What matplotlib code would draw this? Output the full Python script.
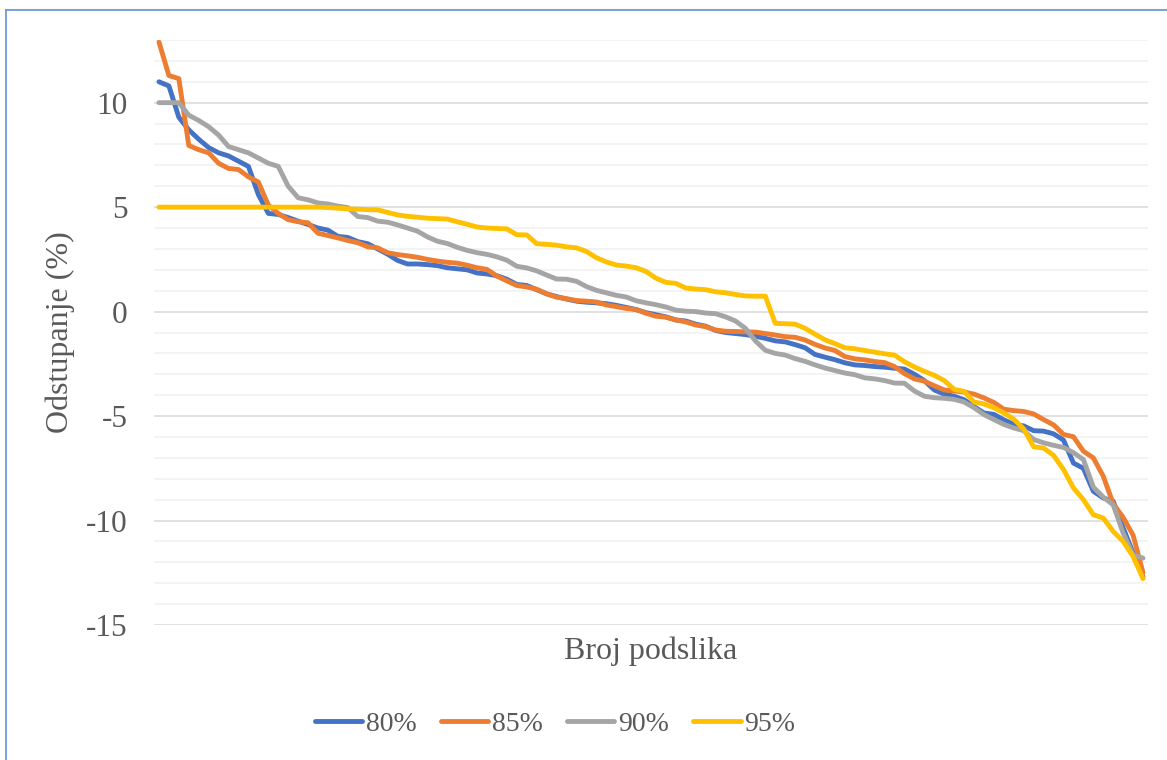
import numpy as np
import matplotlib
matplotlib.use("Agg")
import matplotlib.pyplot as plt
from matplotlib.lines import Line2D

plt.rcParams['font.family'] = ['Liberation Serif', 'DejaVu Serif']
plt.rcParams['axes.unicode_minus'] = False

# podaci procitani sa slike (100 podslika po seriji)
podslike = list(range(1, 101))

s80 = [11.0, 10.8, 9.3, 8.7, 8.25, 7.85, 7.6, 7.45, 7.2, 6.95,
       5.6, 4.7, 4.65, 4.5, 4.33, 4.17, 4.0, 3.9, 3.6, 3.55,
       3.35, 3.25, 3.0, 2.75, 2.45, 2.28, 2.28, 2.25, 2.2, 2.1,
       2.05, 2.0, 1.85, 1.8, 1.72, 1.55, 1.3, 1.25, 1.05, 0.85,
       0.72, 0.6, 0.5, 0.45, 0.42, 0.38, 0.3, 0.2, 0.1, -0.05,
       -0.15, -0.25, -0.4, -0.45, -0.6, -0.7, -0.9, -1.0, -1.05, -1.1,
       -1.18, -1.28, -1.4, -1.45, -1.58, -1.73, -2.05, -2.18, -2.3, -2.45,
       -2.55, -2.58, -2.63, -2.66, -2.71, -2.75, -3.0, -3.3, -3.75, -3.95,
       -4.05, -4.22, -4.55, -4.85, -4.92, -5.18, -5.4, -5.47, -5.7, -5.72,
       -5.85, -6.15, -7.25, -7.5, -8.6, -8.92, -9.08, -10.35, -11.55, -12.7]

s85 = [12.9, 11.3, 11.15, 7.95, 7.75, 7.6, 7.1, 6.85, 6.8, 6.45,
       6.2, 5.1, 4.7, 4.4, 4.3, 4.25, 3.75, 3.64, 3.53, 3.4,
       3.3, 3.1, 3.05, 2.82, 2.73, 2.67, 2.6, 2.5, 2.42, 2.36,
       2.32, 2.22, 2.1, 2.02, 1.7, 1.47, 1.25, 1.18, 1.07, 0.85,
       0.69, 0.62, 0.53, 0.5, 0.46, 0.32, 0.24, 0.15, 0.1, -0.08,
       -0.22, -0.27, -0.4, -0.49, -0.64, -0.72, -0.88, -0.94, -0.95, -0.97,
       -0.98, -1.05, -1.12, -1.2, -1.23, -1.36, -1.57, -1.74, -1.86, -2.15,
       -2.26, -2.31, -2.39, -2.44, -2.63, -2.97, -3.22, -3.33, -3.55, -3.75,
       -3.8, -3.85, -3.95, -4.13, -4.35, -4.67, -4.74, -4.78, -4.9, -5.17,
       -5.42, -5.88, -5.99, -6.68, -7.0, -7.88, -9.2, -9.85, -10.7, -12.5]

s90 = [10.0, 10.0, 10.0, 9.4, 9.15, 8.85, 8.45, 7.9, 7.75, 7.6,
       7.35, 7.1, 6.95, 6.0, 5.45, 5.35, 5.2, 5.15, 5.05, 4.98,
       4.55, 4.5, 4.33, 4.28, 4.15, 4.0, 3.85, 3.58, 3.37, 3.26,
       3.08, 2.93, 2.82, 2.74, 2.62, 2.46, 2.17, 2.09, 1.95, 1.75,
       1.56, 1.55, 1.45, 1.2, 1.02, 0.9, 0.78, 0.7, 0.52, 0.42,
       0.33, 0.22, 0.07, 0.02, 0.0, -0.07, -0.1, -0.25, -0.45, -0.8,
       -1.4, -1.85, -2.0, -2.08, -2.25, -2.38, -2.55, -2.7, -2.82, -2.94,
       -3.02, -3.17, -3.22, -3.3, -3.42, -3.43, -3.8, -4.05, -4.12, -4.15,
       -4.2, -4.33, -4.6, -4.93, -5.17, -5.4, -5.57, -5.7, -6.12, -6.28,
       -6.4, -6.5, -6.75, -7.08, -8.4, -8.88, -9.25, -10.6, -11.65, -11.8]

s95 = [5.0, 5.0, 5.0, 5.0, 5.0, 5.0, 5.0, 5.0, 5.0, 5.0,
       5.0, 5.0, 5.0, 5.0, 5.0, 5.0, 5.0, 4.98, 4.95, 4.92,
       4.9, 4.88, 4.87, 4.75, 4.63, 4.56, 4.52, 4.47, 4.45, 4.43,
       4.3, 4.18, 4.05, 4.0, 3.98, 3.96, 3.68, 3.67, 3.25, 3.22,
       3.18, 3.1, 3.05, 2.88, 2.58, 2.38, 2.23, 2.18, 2.1, 1.92,
       1.6, 1.4, 1.35, 1.13, 1.08, 1.05, 0.95, 0.9, 0.82, 0.75,
       0.74, 0.74, -0.56, -0.58, -0.6, -0.8, -1.08, -1.35, -1.53, -1.73,
       -1.78, -1.86, -1.94, -2.02, -2.08, -2.4, -2.65, -2.86, -3.05, -3.3,
       -3.72, -3.82, -4.33, -4.42, -4.6, -4.85, -5.15, -5.62, -6.47, -6.53,
       -6.88, -7.56, -8.44, -9.0, -9.72, -9.88, -10.52, -11.0, -11.72, -12.78]

serije = ['80%', '85%', '90%', '95%']
boje = ['#4472C4', '#ED7D31', '#A5A5A5', '#FFC000']
yticks = [-15, -10, -5, 0, 5, 10]
ytick_labels = ['-15', '-10', '-5', '0', '5', '10']

W, H = 1167, 760
fig = plt.figure(figsize=(W / 100, H / 100), dpi=100)
ax = fig.add_axes([154 / W, 1 - 625 / H, 994 / W, 585 / H])

x = np.arange(len(podslike))
for vals, naziv, c in zip([s80, s85, s90, s95], serije, boje):
    ax.plot(x, vals, color=c, lw=3.5, label=naziv, solid_joinstyle='round',
            solid_capstyle='round')

ax.set_xlim(-0.5, len(podslike) - 0.5)
ax.set_ylim(-15, 13)
ax.set_yticks(yticks)
ax.set_yticklabels(ytick_labels)
ax.set_yticks(np.arange(-14, 14, 1), minor=True)
ax.set_xticks([])
ax.grid(True, which='major', axis='y', color='#D9D9D9', lw=1.1)
ax.grid(True, which='minor', axis='y', color='#F0F0F0', lw=1.1)
ax.set_axisbelow(True)
ax.tick_params(axis='y', which='both', length=0, pad=19, labelsize=22.5,
               labelcolor='#595959')
for sp in ax.spines.values():
    sp.set_visible(False)

ax.set_ylabel('Odstupanje (%)', fontsize=23, color='#595959', va='center')
ax.yaxis.set_label_coords((60 - 154) / 994, 0.5)
ax.set_xlabel('Broj podslika', fontsize=23, color='#595959', va='center')
ax.xaxis.set_label_coords(0.5, -(651 - 625) / 585)

fig.legend(loc='center', bbox_to_anchor=(555 / W, 1 - 724 / H), ncol=4,
           frameon=False, fontsize=20, handlelength=1.72, handletextpad=0.14,
           columnspacing=0.85, labelcolor='#595959')

# okvir grafikona (vidljiv samo lijevo i gore)
fig.add_artist(Line2D([6 / W, 6 / W], [0, 1 - 10 / H], transform=fig.transFigure,
                      color='#6F97D8', lw=1.3))
fig.add_artist(Line2D([6 / W, 1], [1 - 10 / H, 1 - 10 / H], transform=fig.transFigure,
                      color='#6F97D8', lw=1.3))

fig.savefig('out.png', dpi=100)
